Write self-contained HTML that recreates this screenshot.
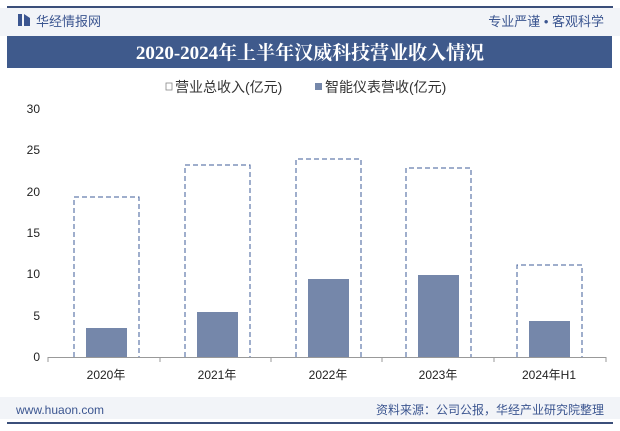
<!DOCTYPE html><html><head><meta charset="utf-8"><style>
body{margin:0;width:620px;height:431px;background:#fff;font-family:"Liberation Sans","Noto Sans CJK SC",sans-serif;overflow:hidden;position:relative}
</style></head><body>
<svg width="620" height="431" style="position:absolute;left:0;top:0" font-family="Liberation Sans, Noto Sans CJK SC, sans-serif">
<rect x="0" y="8" width="620" height="28" fill="#f2f4f8"/>
<rect x="7" y="6" width="606" height="2" fill="#3b4f7a"/>
<rect x="18" y="14" width="4" height="12" fill="#3b5590"/><path d="M24 14 L30 18 L30 26 L24 26Z" fill="#3b5590"/>
<text x="36" y="26" font-size="13" fill="#3b5590">华经情报网</text>
<text x="604" y="26" font-size="13" fill="#3b5590" text-anchor="end">专业严谨 • 客观科学</text>
<rect x="7" y="36" width="605" height="32" fill="#3f5a8c"/>
<text x="310" y="59" font-size="19" font-weight="bold" fill="#fff" text-anchor="middle" font-family="Liberation Serif, Noto Serif CJK SC, serif">2020-2024年上半年汉威科技营业收入情况</text>
<rect x="166" y="83" width="6" height="7" fill="none" stroke="#888" stroke-width="0.8"/>
<text x="175" y="92" font-size="14" fill="#333">营业总收入(亿元)</text>
<rect x="315" y="83" width="7" height="7" fill="#7587aa"/>
<text x="325" y="92" font-size="14" fill="#333">智能仪表营收(亿元)</text>
<g font-size="12" fill="#222" text-anchor="end">
<text x="40" y="113">30</text><text x="40" y="154">25</text><text x="40" y="196">20</text><text x="40" y="237">15</text><text x="40" y="278">10</text><text x="40" y="320">5</text><text x="40" y="361">0</text>
</g>
<line x1="48" y1="357.5" x2="606" y2="357.5" stroke="#999"/>
<g stroke="#999"><line x1="48" y1="357" x2="48" y2="362"/><line x1="160" y1="357" x2="160" y2="362"/><line x1="271" y1="357" x2="271" y2="362"/><line x1="382" y1="357" x2="382" y2="362"/><line x1="494" y1="357" x2="494" y2="362"/><line x1="606" y1="357" x2="606" y2="362"/></g>
<g fill="#7587aa">
<rect x="86" y="328" width="41" height="29"/>
<rect x="197" y="312" width="41" height="45"/>
<rect x="308" y="279" width="41" height="78"/>
<rect x="418" y="275" width="41" height="82"/>
<rect x="529" y="321" width="41" height="36"/>
</g>
<g fill="none" stroke="#3f5c9a" stroke-dasharray="5,3" stroke-width="1">
<path d="M74 357 V197 H139 V357"/>
<path d="M185 357 V165 H250 V357"/>
<path d="M296 357 V159 H361 V357"/>
<path d="M406 357 V168 H471 V357"/>
<path d="M517 357 V265 H582 V357"/>
</g>
<g font-size="12" fill="#222" text-anchor="middle">
<text x="106" y="379">2020年</text><text x="217" y="379">2021年</text><text x="328" y="379">2022年</text><text x="438" y="379">2023年</text><text x="549" y="379">2024年H1</text>
</g>
<rect x="0" y="397" width="620" height="22" fill="#f2f4f8"/>
<text x="16" y="414" font-size="12" fill="#3b5590">www.huaon.com</text>
<text x="604" y="414" font-size="12" fill="#3b5590" text-anchor="end">资料来源：公司公报，华经产业研究院整理</text>
<rect x="7" y="422" width="606" height="2" fill="#3b4f7a"/>
</svg>
</body></html>
